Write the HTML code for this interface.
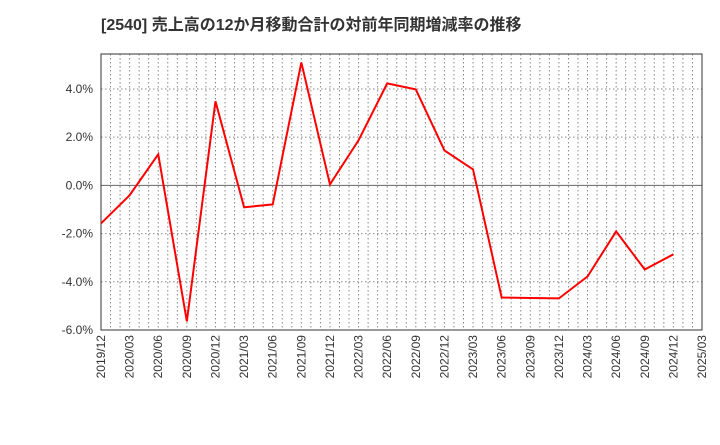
<!DOCTYPE html>
<html><head><meta charset="utf-8"><style>
body{margin:0;background:#fff;}
svg text{font-family:"Liberation Sans","Noto Sans CJK JP",sans-serif;}
</style></head><body>
<svg id="c" width="720" height="440" xmlns="http://www.w3.org/2000/svg">
<text x="101" y="30" font-size="16" font-weight="bold" fill="#333">[2540]  売上高の12か月移動合計の対前年同期増減率の推移</text>
<g id="grid"></g><g id="axes"></g><g id="series"></g>
</svg>
<script>
const categories=["2019/12","2020/03","2020/06","2020/09","2020/12","2021/03","2021/06","2021/09","2021/12","2022/03","2022/06","2022/09","2022/12","2023/03","2023/06","2023/09","2023/12","2024/03","2024/06","2024/09","2024/12"];
const tickLabels=["2019/12","2020/03","2020/06","2020/09","2020/12","2021/03","2021/06","2021/09","2021/12","2022/03","2022/06","2022/09","2022/12","2023/03","2023/06","2023/09","2023/12","2024/03","2024/06","2024/09","2024/12","2025/03"];
const values=[-1.58,-0.41,1.29,-5.64,3.49,-0.91,-0.79,5.1,0.04,1.87,4.23,3.98,1.45,0.66,-4.65,-4.67,-4.69,-3.78,-1.91,-3.49,-2.86];
const yTicks=[-6,-4,-2,0,2,4];
const L=101,R=702,T=54,B=330,ymin=-6,ymax=5.45;
const NS="http://www.w3.org/2000/svg";
const xq=i=>L+i*(R-L)/21;
const y=v=>B-(v-ymin)/(ymax-ymin)*(B-T);
function mk(t,a,p){const e=document.createElementNS(NS,t);for(const k in a)e.setAttribute(k,a[k]);p.appendChild(e);return e;}
const g=document.getElementById('grid'),ax=document.getElementById('axes'),s=document.getElementById('series');
for(let m=1;m<63;m++){const x=L+m*(R-L)/63;
const l=mk('line',{x1:x,x2:x,y1:T,y2:B,stroke:'#888','stroke-dasharray':'1.5,2.5'},g);

}
yTicks.forEach(v=>{const yy=y(v);
if(v!==ymin){const l=mk('line',{x1:L,x2:R,y1:yy,y2:yy,stroke:v===0?'#666':'#888','stroke-dasharray':v===0?'':'1.5,2.5'},g);

}
const t=mk('text',{x:L-8,y:yy+4,'text-anchor':'end','font-size':12,fill:'#333'},ax);t.textContent=v.toFixed(1)+'%';

});
tickLabels.forEach((lb,i)=>{const x=xq(i);
const t=mk('text',{transform:`translate(${x+4},${B+5}) rotate(-90)`,'text-anchor':'end','font-size':12,fill:'#333'},ax);t.textContent=lb;

});
const fr=mk('rect',{x:L,y:T,width:R-L,height:B-T,fill:'none',stroke:'#333'},ax);


const pl=mk('polyline',{points:values.map((v,i)=>xq(i)+','+y(v)).join(' '),fill:'none',stroke:'#f00','stroke-width':2},s);


</script>
</body></html>
